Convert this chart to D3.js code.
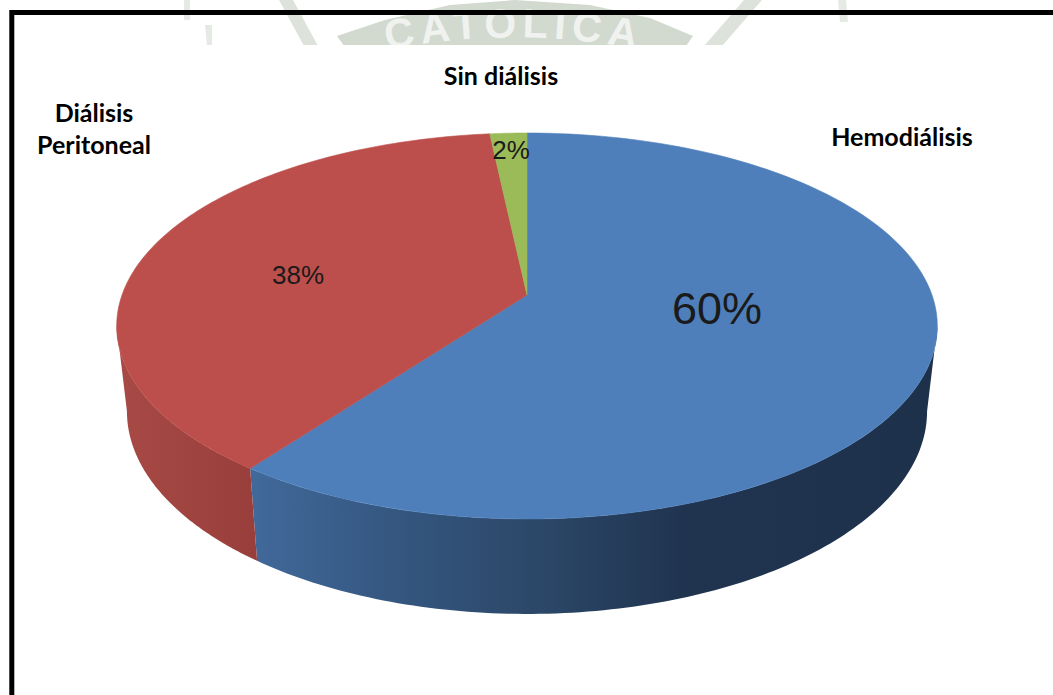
<!DOCTYPE html>
<html><head><meta charset="utf-8">
<script src="https://cdn.jsdelivr.net/npm/d3@7"></script>
<style>html,body{margin:0;padding:0;background:#fff;overflow:hidden}svg{display:block}</style>
</head><body>
<svg id="c" width="1053" height="695"></svg>
<script>
const categories = ["Hemodiálisis", "Diálisis Peritoneal", "Sin diálisis"];
const values = [60.15, 38.15, 1.7];
const topColors = ["#4E7FBA", "#BC4F4C", "#9BBB59"];
const wallStops = [
  [["#41699A", 0], ["#34567F", .22], ["#2C4869", .41], ["#203450", .63], ["#1E314B", 1]],
  [["#A84A46", 0], ["#983E3B", 1]],
  [["#7A9446", 0], ["#7A9446", 1]]
];
const svg = d3.select("#c");
const W = 1053, H = 695;
const cx = 527, apexY = 295, Rx = 405, Sy = 188, k = 0.1606;
const project = t => {
  const u = Math.sin(t), v = -Math.cos(t), w = 1 - k * v;
  return [cx + Rx * u / w, apexY + Sy * v / w];
};
const lower = ([x, y]) => [cx + (x - cx) * 0.975, y * 1.05 + 69];
const arcs = d3.pie().sort(null).value(d => d)(values);
const sample = (a, b) => d3.range(0, 121).map(i => a + (b - a) * i / 120);
const line = d3.line();
const defs = svg.append("defs");

// watermark, cut off by the white page below it
const wm = svg.append("g");
const markColor = "#D2DAD0";
wm.append("path").attr("fill", markColor).attr("d", line([[337, 36],[385, 20],[450, 5],[515, 0],[590, 5],[650, 18],[693, 36],[686, 46],[344, 46]]) + "Z");
[[[279, 0],[293, 0],[318, 46],[304, 46]], [[744, 0],[762, 0],[722, 46],[704, 46]]].forEach(p =>
  wm.append("path").attr("fill", "#DDE3DB").attr("d", line(p) + "Z"));
[[[184, 0],[190, 0],[190, 20],[184, 20]], [[205, 25],[212, 25],[212, 46],[207, 46]], [[838, 0],[846, 0],[848, 22],[840, 22]]].forEach(p =>
  wm.append("path").attr("fill", "#E6EAE4").attr("d", line(p) + "Z"));
defs.append("path").attr("id", "markArc").attr("d", "M362,55 Q514,20 666,55");
wm.append("text").attr("text-anchor", "middle")
  .attr("font-family", "Liberation Sans").attr("font-weight", 700).attr("font-size", 41).attr("letter-spacing", 6).attr("fill", "#F0F2EF")
  .append("textPath").attr("href", "#markArc").attr("startOffset", "50%").text("CATOLICA");
svg.append("rect").attr("x", 0).attr("y", 45).attr("width", W).attr("height", H - 45).attr("fill", "#fff");

// frame
svg.append("path").attr("d", line([[11.8, H], [11.8, 12.5], [W, 12.5]]))
  .attr("fill", "none").attr("stroke", "#000").attr("stroke-width", 5);

// side walls, from one tangent of the rim to the other
const visFrom = Math.acos(-k), visTo = 2 * Math.PI - visFrom;
arcs.forEach((d, i) => {
  const a = Math.max(d.startAngle, visFrom), b = Math.min(d.endAngle, visTo);
  if (b <= a) return;
  const ts = sample(a, b), up = ts.map(project), lo = ts.map(t => lower(project(t))).reverse();
  const all = up.concat(lo);
  const id = "wall" + i;
  const g = defs.append("linearGradient").attr("id", id).attr("gradientUnits", "userSpaceOnUse")
    .attr("x1", d3.min(all, p => p[0])).attr("x2", d3.max(all, p => p[0])).attr("y1", 0).attr("y2", 0);
  wallStops[i].forEach(s => g.append("stop").attr("offset", s[1]).attr("stop-color", s[0]));
  svg.append("path").attr("d", line(all) + "Z").attr("fill", `url(#${id})`);
});

// top face
arcs.forEach((d, i) => {
  const pts = [[cx, apexY]].concat(sample(d.startAngle, d.endAngle).map(project));
  svg.append("path").attr("d", line(pts) + "Z").attr("fill", topColors[i])
    .attr("stroke", topColors[i]).attr("stroke-width", 0.6);
});

// value labels
const pct = d3.format(".0f");
const valuePlaces = [[717, 324, 45], [298, 284, 26], [511, 159, 26]];
values.forEach((v, i) => {
  svg.append("text").text(pct(v) + "%").attr("x", valuePlaces[i][0]).attr("y", valuePlaces[i][1])
    .attr("text-anchor", "middle").attr("font-family", "Liberation Sans, Arial, sans-serif")
    .attr("font-size", valuePlaces[i][2]).attr("fill", "#1a1a1a");
});

// category labels
const namePlaces = [[[902, 146]], [[94, 122], [94, 154]], [[501, 85]]];
const nameLines = [["Hemodiálisis"], ["Diálisis", "Peritoneal"], ["Sin diálisis"]];
categories.forEach((c, i) => {
  nameLines[i].forEach((t, j) => {
    svg.append("text").text(t).attr("x", namePlaces[i][j][0]).attr("y", namePlaces[i][j][1])
      .attr("text-anchor", "middle").attr("font-family", "Lato, sans-serif").attr("font-weight", 700)
      .attr("font-size", 25).attr("fill", "#000");
  });
});
</script>
</body></html>
